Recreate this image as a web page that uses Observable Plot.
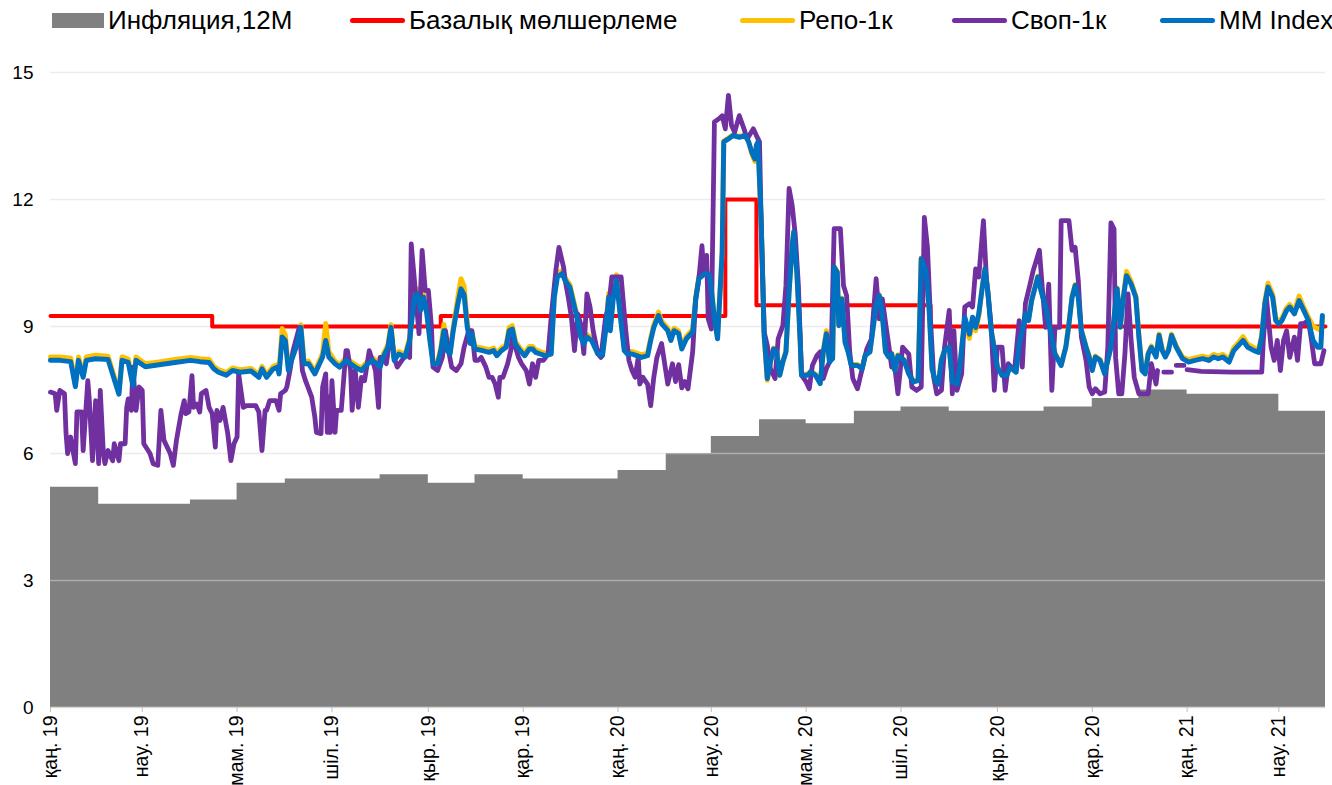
<!DOCTYPE html>
<html><head><meta charset="utf-8">
<script src="https://cdn.jsdelivr.net/npm/d3@7"></script>
<script src="https://cdn.jsdelivr.net/npm/@observablehq/plot@0.6"></script>
<style>
body{margin:0;background:#fff;font-family:"Liberation Sans",Arial,sans-serif;}
#legend{position:relative;height:45px;width:1332px;}
.item{position:absolute;top:5px;height:30px;display:flex;align-items:center;font-size:26px;color:#000;white-space:nowrap;}
.sw{display:inline-block;margin-right:4px;}
</style></head><body>
<div id="legend"></div>
<div id="chart"></div>
<script>
// ---- data ----
const seriesNames = ["Инфляция,12M", "Базалық мөлшерлеме", "Репо-1к", "Своп-1к", "MM Index"];
const seriesColors = ["#808080", "#ff0000", "#ffc000", "#7030a0", "#0070c0"];
const startDate = "2019-01-01";
const endDate = "2021-03-31";
const yTicks = [0, 3, 6, 9, 12, 15];
const xTickDates = ["2019-01-01","2019-03-01","2019-05-01","2019-07-01","2019-09-01","2019-11-01","2020-01-01","2020-03-01","2020-05-01","2020-07-01","2020-09-01","2020-11-01","2021-01-01","2021-03-01"];
const xTickLabels = ["қаң. 19","нау. 19","мам. 19","шіл. 19","қыр. 19","қар. 19","қаң. 20","нау. 20","мам. 20","шіл. 20","қыр. 20","қар. 20","қаң. 21","нау. 21"];

// 12M inflation, monthly (Jan 2019 .. Mar 2021)
const inflMonths = ["2019-01-01","2019-02-01","2019-03-01","2019-04-01","2019-05-01","2019-06-01","2019-07-01","2019-08-01","2019-09-01","2019-10-01","2019-11-01","2019-12-01",
  "2020-01-01","2020-02-01","2020-03-01","2020-04-01","2020-05-01","2020-06-01","2020-07-01","2020-08-01","2020-09-01","2020-10-01","2020-11-01","2020-12-01",
  "2021-01-01","2021-02-01","2021-03-01"];
const inflation = [5.2,4.8,4.8,4.9,5.3,5.4,5.4,5.5,5.3,5.5,5.4,5.4, 5.6,6.0,6.4,6.8,6.7,7.0,7.1,7.0,7.0,7.1,7.3,7.5, 7.4,7.4,7.0];

// base rate changes
const baseDates = ["2019-01-01","2019-04-15","2019-09-09","2020-03-10","2020-03-30","2020-07-20"];
const baseRate = [9.25, 9.0, 9.25, 12.0, 9.5, 9.0];

// MM Index & Repo-1k (days since 2019-01-01)
const mmDays = [
  0,6,13,16,18,21,23,29,37,44,
  46,50,53,55,61,71,80,90,96,102,
  105,108,113,117,122,129,134,136,139,143,
  146,147,149,151,153,155,158,161,163,166,
  170,175,177,179,183,186,190,193,196,200,
  204,207,210,212,214,217,219,221,224,228,
  231,234,236,238,240,242,244,246,249,251,
  253,255,257,259,262,264,266,268,270,271,
  273,278,282,285,287,290,293,295,297,299,
  302,305,308,310,312,315,318,322,324,326,
  329,331,334,337,339,341,343,345,348,352,
  355,357,359,360,362,364,367,369,371,374,
  377,380,384,386,388,391,393,397,399,401,
  404,406,409,413,415,417,421,424,427,429,
  432,433,436,439,443,447,449,451,453,454,
  455,457,459,461,463,465,467,469,471,473,
  475,477,478,480,482,483,487,489,492,495,
  497,499,501,503,504,506,507,509,511,513,
  515,519,522,524,527,531,533,535,537,539,
  541,543,545,549,552,555,558,560,563,565,
  567,569,571,573,575,578,580,583,585,588,
  591,593,595,597,599,601,603,605,609,612,
  615,617,621,623,625,627,629,631,635,637,
  640,643,646,650,653,655,657,659,661,663,
  666,668,670,672,675,678,682,686,688,690,
  692,695,698,700,702,704,706,708,711,713,
  715,717,719,721,724,728,732,736,741,745,
  748,751,754,758,761,764,767,770,774,777,
  779,781,783,786,788,790,792,795,797,800,
  803,806,809,812,815,817,818];
const mmIndex = [
  8.20,8.20,8.17,7.58,8.20,7.80,8.20,8.24,8.22,7.40,
  8.20,8.15,7.60,8.20,8.05,8.10,8.15,8.20,8.17,8.15,
  8.00,7.92,7.85,7.96,7.92,7.95,7.80,8.00,7.80,7.99,
  8.04,7.88,8.75,8.67,7.96,8.20,8.51,8.98,8.12,8.12,
  7.88,8.28,8.67,8.28,8.12,8.04,8.20,8.12,8.04,7.96,
  8.12,8.20,8.12,8.04,8.28,8.51,8.98,8.20,8.35,8.28,
  8.67,9.69,9.77,9.38,9.69,9.30,8.67,8.12,8.12,8.43,
  8.90,8.43,8.35,8.90,9.54,9.89,9.75,9.00,8.60,8.83,
  8.47,8.43,8.39,8.43,8.31,8.43,8.51,8.90,8.94,8.59,
  8.43,8.31,8.47,8.47,8.39,8.35,8.31,8.35,9.69,10.17,
  10.25,10.09,9.93,9.46,9.15,8.75,8.59,8.75,8.67,8.35,
  8.31,8.90,9.69,8.90,9.69,10.09,9.07,8.43,8.35,8.35,
  8.31,8.27,8.31,8.67,8.98,9.26,9.07,8.90,8.67,8.90,
  8.83,8.47,8.71,8.87,9.65,10.13,10.25,10.21,9.18,8.71,
  10.76,13.36,13.43,13.51,13.47,13.51,13.36,13.12,12.96,13.28,
  13.36,11.55,8.79,7.77,8.16,8.47,8.40,7.85,8.16,8.40,
  9.81,10.91,11.23,10.28,8.79,7.85,7.85,7.93,7.85,7.65,
  8.40,8.83,8.16,8.24,10.40,10.28,9.02,9.65,8.63,8.40,
  8.08,8.08,8.00,8.32,8.40,9.50,9.73,9.26,8.40,8.28,
  8.35,7.96,8.31,8.20,7.88,7.69,7.72,10.60,10.33,9.46,
  7.99,7.72,7.64,8.20,8.43,8.51,7.69,7.64,8.11,9.22,
  8.82,9.22,8.98,9.30,9.85,10.36,9.77,8.90,8.04,7.84,
  7.84,8.04,7.92,8.59,8.90,9.30,9.14,9.61,10.17,9.85,
  9.46,8.90,8.35,8.08,8.51,9.06,9.69,9.97,9.69,8.90,
  8.51,8.28,7.96,8.28,8.20,7.88,8.51,9.89,8.98,9.69,
  10.20,10.00,9.69,8.75,7.96,7.88,8.35,8.51,8.28,8.79,
  8.43,8.28,8.43,8.79,8.51,8.24,8.16,8.20,8.24,8.20,
  8.28,8.24,8.28,8.16,8.43,8.55,8.67,8.51,8.43,8.39,
  8.75,9.54,9.93,9.69,9.14,9.06,9.14,9.38,9.46,9.30,
  9.61,9.38,9.14,8.67,8.51,8.51,9.26];
const repo1k = [
  8.28,8.28,8.25,7.64,8.28,7.86,8.28,8.32,8.30,7.46,
  8.28,8.23,7.66,8.28,8.12,8.17,8.22,8.27,8.24,8.22,
  8.06,7.98,7.91,8.02,7.98,8.01,7.86,8.06,7.86,8.05,
  8.10,7.94,8.95,8.80,8.02,8.26,8.57,9.04,8.18,8.18,
  7.94,8.36,9.07,8.40,8.18,8.10,8.26,8.18,8.10,8.02,
  8.18,8.26,8.18,8.10,8.34,8.57,9.04,8.26,8.41,8.34,
  8.73,9.80,9.88,9.45,9.76,9.36,8.73,8.18,8.18,8.49,
  9.05,8.49,8.41,8.96,9.70,10.13,9.95,9.10,8.66,8.89,
  8.53,8.49,8.45,8.49,8.37,8.49,8.57,8.98,9.02,8.65,
  8.49,8.37,8.53,8.53,8.45,8.41,8.37,8.41,9.75,10.25,
  10.32,10.15,9.99,9.52,9.21,8.81,8.65,8.81,8.73,8.41,
  8.37,8.96,9.78,8.96,9.80,10.22,9.13,8.49,8.41,8.41,
  8.37,8.33,8.37,8.73,9.04,9.34,9.13,8.96,8.73,8.96,
  8.89,8.53,8.77,8.93,9.71,10.19,10.28,10.24,9.21,8.74,
  10.79,13.38,13.45,13.53,13.49,13.53,13.36,13.08,12.90,13.26,
  13.36,11.55,8.77,7.73,8.16,8.49,8.42,7.85,8.18,8.42,
  9.83,10.93,11.25,10.30,8.81,7.87,7.87,7.95,7.87,7.67,
  8.42,8.90,8.18,8.26,10.42,10.30,9.04,9.67,8.65,8.42,
  8.10,8.10,8.02,8.34,8.42,9.52,9.75,9.28,8.42,8.30,
  8.37,7.98,8.33,8.22,7.90,7.71,7.74,10.62,10.35,9.48,
  8.01,7.74,7.66,8.22,8.45,8.53,7.71,7.66,8.13,9.10,
  8.72,9.12,8.90,9.25,9.87,10.38,9.79,8.92,8.06,7.86,
  7.86,8.06,7.94,8.61,8.92,9.32,9.16,9.63,10.19,9.87,
  9.48,8.92,8.37,8.10,8.53,9.08,9.71,9.99,9.71,8.92,
  8.53,8.30,7.98,8.30,8.22,7.90,8.53,9.91,9.00,9.71,
  10.30,10.06,9.72,8.78,7.99,7.91,8.38,8.54,8.31,8.82,
  8.46,8.31,8.46,8.82,8.54,8.28,8.22,8.26,8.30,8.26,
  8.34,8.30,8.34,8.22,8.50,8.62,8.76,8.58,8.50,8.45,
  8.80,9.60,10.02,9.76,9.20,9.12,9.20,9.44,9.52,9.36,
  9.72,9.45,9.22,9.00,8.95,8.90,9.20];

// Swap-1k (days since 2019-01-01), null = no quote
const swapDays = [
  0,3,4,6,9,10,11,13,14,16,
  17,20,21,24,25,27,29,31,32,34,
  35,37,40,41,44,45,48,49,50,52,
  53,55,57,59,60,64,66,69,71,73,
  77,79,81,84,86,87,89,91,92,94,
  96,97,100,102,104,106,107,109,111,114,
  116,118,120,121,124,126,132,134,136,138,
  139,141,145,147,148,151,152,154,156,160,
  162,164,168,170,171,174,175,177,178,179,
  180,181,183,184,187,190,191,193,194,196,
  198,200,202,205,207,209,211,212,214,216,
  219,221,223,226,229,231,232,235,237,239,
  241,243,245,246,249,252,254,256,258,261,
  264,266,269,271,273,275,277,280,282,284,
  286,288,289,291,294,296,297,299,301,303,
  306,308,310,312,314,317,320,322,325,327,
  330,331,333,335,337,339,341,343,345,347,
  349,352,354,357,359,361,367,370,372,374,
  376,378,379,381,384,386,388,390,393,395,
  397,400,402,404,406,408,410,413,415,417,
  419,420,422,423,425,427,430,432,434,436,
  438,440,443,446,448,450,452,454,456,457,
  459,461,463,466,468,471,473,475,477,479,
  481,483,486,488,490,493,495,497,499,502,
  504,508,510,512,514,516,519,522,525,528,
  531,533,535,537,539,541,543,545,548,550,
  552,554,557,560,562,564,566,568,570,573,
  575,578,580,581,583,586,588,591,593,595,
  597,600,602,605,607,609,612,614,616,620,
  623,625,627,630,632,636,638,640,642,644,
  646,649,650,655,657,659,661,663,666,668,
  670,672,675,678,680,682,684,685,687,689,
  691,693,695,697,700,703,706,708,711,712,
  714,716,721,722,724,729,730,731,740,760,
  779,780,782,785,787,789,791,793,795,797,
  800,802,804,806,809,811,813,817,819];
const swap1k = [
  7.45,7.41,7.02,7.49,7.41,6.47,6.00,6.39,6.15,5.76,
  6.98,6.98,6.07,7.72,7.25,5.83,7.25,5.76,7.49,6.00,
  5.76,6.07,5.83,6.23,5.83,6.23,6.23,7.09,7.29,7.02,
  8.04,7.02,7.57,7.49,6.23,6.00,5.76,5.72,7.02,6.31,
  6.00,5.72,6.31,6.94,7.25,6.94,6.98,7.84,7.09,7.17,
  6.98,7.41,7.49,7.09,6.94,6.15,7.02,6.78,7.09,6.47,
  5.83,6.23,6.39,7.88,7.09,7.13,7.13,6.98,6.07,7.02,
  7.02,7.25,7.25,7.02,7.41,7.49,7.57,7.96,8.43,8.98,
  7.96,7.72,7.33,6.86,6.50,6.47,7.57,7.88,6.50,7.33,
  6.50,7.72,6.50,7.02,7.02,8.43,8.43,7.96,7.02,7.96,
  7.09,7.80,7.72,8.43,8.20,7.96,7.09,8.27,8.27,8.12,
  8.90,8.27,8.04,8.20,8.35,8.27,10.95,9.69,8.83,10.80,
  9.85,9.85,9.00,8.04,7.96,8.27,8.90,8.43,8.04,7.96,
  8.12,8.51,8.90,8.90,8.20,8.20,8.27,8.04,7.80,7.80,
  7.64,7.33,7.80,7.80,8.12,8.43,8.75,8.51,8.27,8.12,
  7.96,7.64,8.12,7.80,8.20,8.20,8.35,9.22,10.32,10.87,
  10.40,10.09,9.69,9.22,8.43,9.30,9.06,8.36,9.77,9.46,
  8.90,8.36,8.27,9.22,9.46,10.17,10.17,8.90,8.20,7.96,
  7.80,8.27,7.64,7.80,7.64,7.13,7.80,8.27,8.60,8.12,
  7.64,8.12,7.70,8.10,7.55,7.70,7.53,8.40,9.65,10.13,
  10.91,10.28,10.68,9.18,8.94,13.83,13.91,13.98,13.67,14.46,
  13.75,13.59,13.98,13.67,13.43,13.55,13.67,13.51,13.36,11.55,
  8.87,8.55,8.00,7.77,8.71,9.02,9.97,12.26,11.86,11.16,
  9.97,7.85,7.69,7.53,8.08,8.32,8.40,7.77,8.00,8.24,
  11.31,11.31,9.97,9.73,8.40,7.77,7.53,8.00,8.47,8.71,
  10.13,9.18,9.65,9.10,8.59,8.04,8.04,7.41,8.51,8.43,
  8.35,7.57,7.49,7.57,11.58,10.87,9.14,7.80,7.41,7.49,
  8.51,9.38,7.41,8.90,7.49,7.88,9.46,9.54,9.46,10.36,
  10.17,11.50,10.09,8.98,7.49,8.51,8.51,7.49,8.12,7.96,
  9.14,8.04,9.54,10.00,10.32,10.80,9.85,8.98,10.00,7.49,
  8.98,8.98,11.50,11.50,10.80,10.87,10.09,8.75,8.20,7.57,
  7.41,7.53,7.41,7.45,8.51,11.45,11.30,8.27,7.41,7.41,
  8.35,9.77,8.67,7.80,7.41,7.41,7.41,8.12,7.64,7.96,
  null,7.92,7.92,null,8.08,8.08,null,7.98,7.94,7.92,
  7.92,8.67,9.69,8.51,8.20,8.67,7.96,8.67,8.90,8.27,
  8.75,8.20,9.07,9.07,9.14,8.67,8.12,8.12,8.43];

// ---- build ----
const t0 = new Date(startDate + "T00:00:00Z");
const tEnd = new Date(endDate + "T00:00:00Z");
const dayToDate = d => new Date(t0.getTime() + d * 86400000);
const parse = s => new Date(s + "T00:00:00Z");

const mmData = mmDays.map((d, i) => ({date: dayToDate(d), mm: mmIndex[i], repo: repo1k[i]}));
const swapData = swapDays.map((d, i) => ({date: dayToDate(d), v: swap1k[i]}));
const inflData = inflMonths.map((m, i) => ({date: parse(m), v: inflation[i]}));
inflData.push({date: tEnd, v: inflation[inflation.length - 1]});
const baseData = baseDates.map((m, i) => ({date: parse(m), v: baseRate[i]}));
baseData.push({date: tEnd, v: baseRate[baseRate.length - 1]});

const tickDates = xTickDates.map(parse);
const labelMap = new Map(tickDates.map((d, i) => [d.getTime(), xTickLabels[i]]));

// legend
const legend = document.getElementById("legend");
const legendLeft = [52, 350, 740, 952, 1160];
seriesNames.forEach((name, i) => {
  const it = document.createElement("div");
  it.className = "item";
  it.style.left = legendLeft[i] + "px";
  const sw = document.createElement("span");
  sw.className = "sw";
  if (i === 0) { sw.style.width = "52px"; sw.style.height = "15px"; sw.style.background = seriesColors[i]; }
  else { sw.style.width = "55px"; sw.style.height = "5px"; sw.style.borderRadius = "3px"; sw.style.background = seriesColors[i]; }
  it.appendChild(sw);
  const tx = document.createElement("span");
  tx.textContent = name;
  it.appendChild(tx);
  legend.appendChild(it);
});

const chart = Plot.plot({
  width: 1332,
  height: 740,
  marginTop: 27,
  marginLeft: 50,
  marginRight: 7,
  marginBottom: 78,
  style: {fontFamily: "'Liberation Sans', Arial, sans-serif", fontSize: "19px", color: "#000", background: "#fff"},
  x: {type: "utc", domain: [t0, tEnd]},
  y: {domain: [0, 15]},
  marks: [
    Plot.areaY(inflData, {x: "date", y: "v", curve: "step-after", fill: seriesColors[0]}),
    Plot.ruleY(yTicks.slice(1), {stroke: "#d9d9d9", strokeWidth: 1.3, strokeOpacity: 0.5}),
    Plot.ruleY([0], {stroke: "#d9d9d9", strokeWidth: 1.3}),
    Plot.line(baseData, {x: "date", y: "v", curve: "step-after", stroke: seriesColors[1], strokeWidth: 4}),
    Plot.line(mmData, {x: "date", y: "repo", stroke: seriesColors[2], strokeWidth: 5, strokeLinejoin: "round"}),
    Plot.line(swapData, {x: "date", y: "v", stroke: seriesColors[3], strokeWidth: 4.8, strokeLinejoin: "round"}),
    Plot.line(mmData, {x: "date", y: "mm", stroke: seriesColors[4], strokeWidth: 5, strokeLinejoin: "round"}),
    Plot.axisY({ticks: yTicks, tickSize: 0, tickPadding: 17, fontSize: 19, label: null}),
    Plot.axisX({ticks: tickDates, tickFormat: d => labelMap.get(d.getTime()), tickRotate: -90, tickSize: 5, tickPadding: 3, stroke: "#bfbfbf", fill: "#000", fontSize: 19.5, label: null})
  ]
});
document.getElementById("chart").appendChild(chart);
</script>
</body></html>
